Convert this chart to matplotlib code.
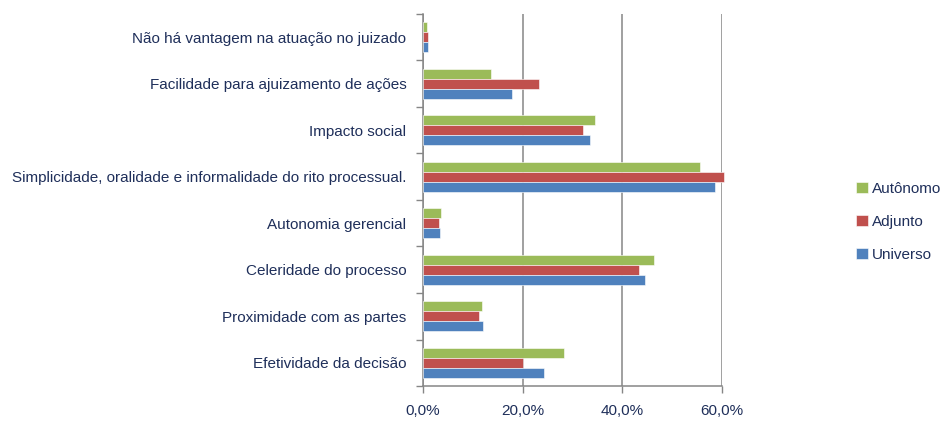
import matplotlib
matplotlib.use("Agg")
import matplotlib.pyplot as plt
import numpy as np
from matplotlib.ticker import FuncFormatter, FixedLocator
from matplotlib import font_manager

names = {f.name for f in font_manager.fontManager.ttflist}
fam = "Liberation Sans Narrow" if "Liberation Sans Narrow" in names else "Liberation Sans"
plt.rcParams['font.family'] = [fam, 'DejaVu Sans']

categories = [
    "Não há vantagem na atuação no juizado",
    "Facilidade para ajuizamento de ações",
    "Impacto social",
    "Simplicidade, oralidade e informalidade do rito processual.",
    "Autonomia gerencial",
    "Celeridade do processo",
    "Proximidade com as partes",
    "Efetividade da decisão",
]
autonomo = [0.9, 13.7, 34.6, 55.5, 3.6, 46.4, 11.8, 28.2]
adjunto = [1.1, 23.3, 32.2, 60.4, 3.3, 43.3, 11.2, 20.1]
universo = [1.0, 17.8, 33.6, 58.5, 3.5, 44.5, 12.0, 24.3]
series_names = ["Autônomo", "Adjunto", "Universo"]
colors = ["#9BBB59", "#C0504D", "#4F81BD"]
xticks = [0, 20, 40, 60]

text_color = "#1F2F5A"
fig = plt.figure(figsize=(9.42, 4.21), dpi=100)
ax = fig.add_axes([0.449, 0.083, 0.3175, 0.884])

n = len(categories)
y = np.arange(n)[::-1]  # first category at top
h = 0.215
for i, (vals, name, c) in enumerate(zip([autonomo, adjunto, universo], series_names, colors)):
    bars = ax.barh(y + (1 - i) * h, vals, height=h, color=c, label=name,
                   edgecolor="white", linewidth=0.4, zorder=3)
    for b in bars:
        b.set_clip_on(False)

ax.set_xlim(0, 60)
ax.set_ylim(-0.5, n - 0.5)
ax.set_xticks(xticks)
ax.xaxis.set_major_formatter(FuncFormatter(lambda v, p: f"{v:.1f}%".replace(".", ",")))
ax.set_yticks(y)
ax.set_yticklabels(categories)
ax.yaxis.set_minor_locator(FixedLocator(np.arange(-0.5, n, 1.0)))
ax.tick_params(axis='y', which='major', length=0, pad=12, labelsize=11, labelcolor=text_color)
ax.tick_params(axis='y', which='minor', length=5, color="#868686", width=1)
ax.tick_params(axis='x', which='major', length=5, color="#868686", width=1,
               labelsize=11, labelcolor=text_color, pad=8)

ax.grid(axis='x', color="#868686", linewidth=1.1, zorder=0)
for s in ["top", "right"]:
    ax.spines[s].set_visible(False)
for s in ["left", "bottom"]:
    ax.spines[s].set_color("#868686")
    ax.spines[s].set_linewidth(1.1)

leg = fig.legend(loc="center left", bbox_to_anchor=(0.909, 0.473), frameon=False,
                 borderpad=0, borderaxespad=0,
                 handlelength=0.75, handleheight=0.75, handletextpad=0.3,
                 labelspacing=1.25, fontsize=11)
for t in leg.get_texts():
    t.set_color(text_color)

fig.savefig("out.png", dpi=100)
